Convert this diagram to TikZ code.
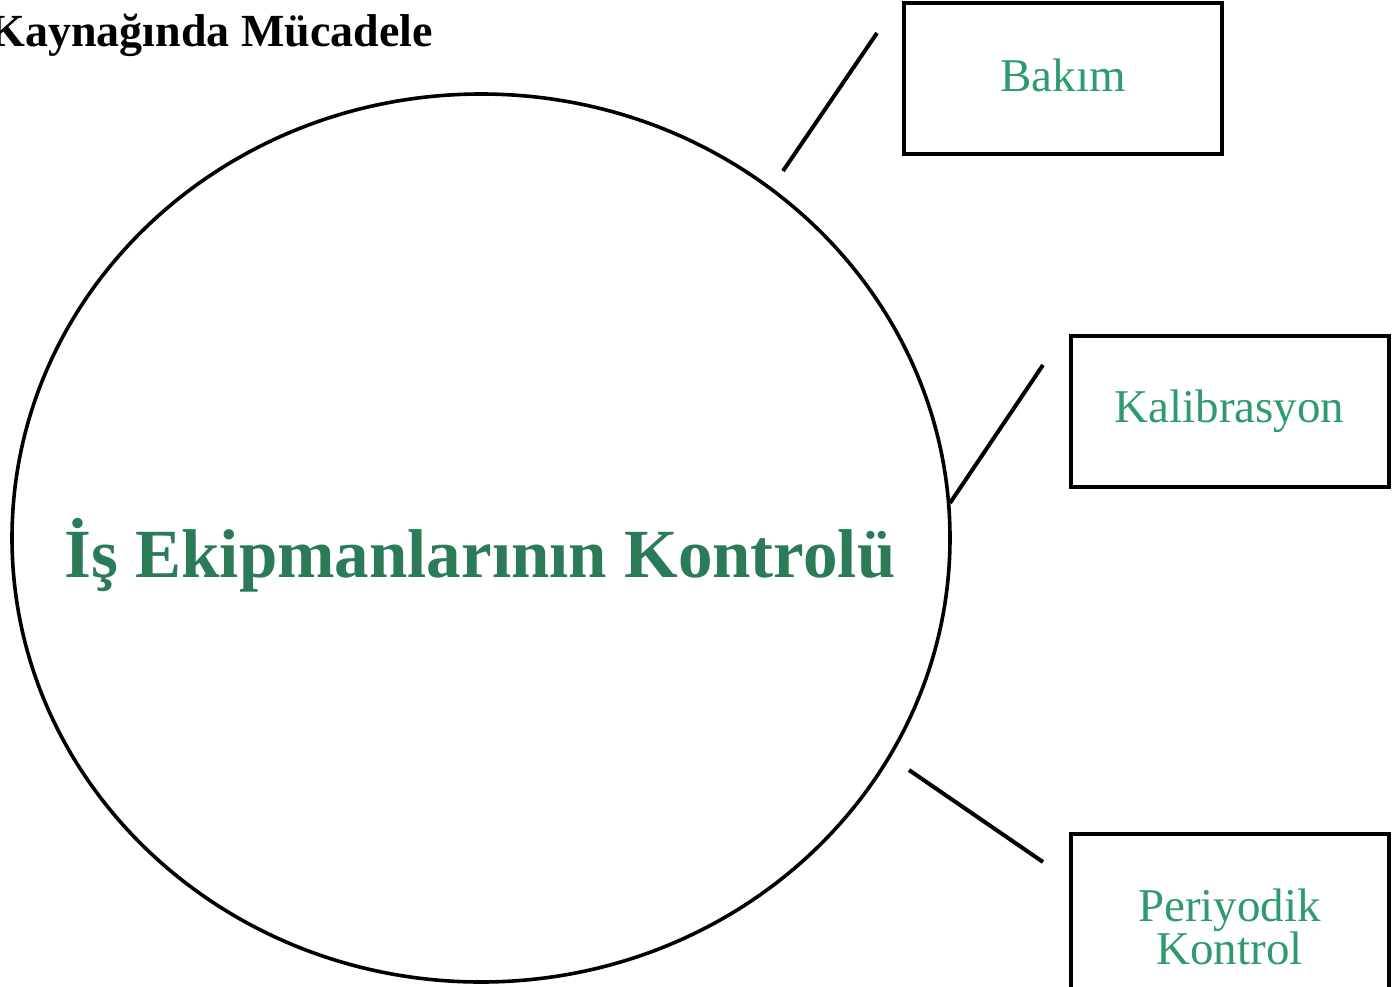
\documentclass[tikz,border=0pt]{standalone}
\usepackage{fontspec}
\setmainfont{Liberation Serif}
\usetikzlibrary{shapes.geometric}
\definecolor{boxgreen}{HTML}{2F9A6E}
\definecolor{maingreen}{HTML}{2B7A58}
\tikzset{
  boxnode/.style={draw=black, line width=4pt, rectangle, minimum width=318pt, align=center, text=boxgreen, font=\fontsize{47}{43}\selectfont, inner sep=0pt},
  link/.style={draw=black, line width=4pt}
}
\begin{document}
\begin{tikzpicture}[x=1pt,y=-1pt]
\useasboundingbox (0,0) rectangle (1393,986);
\begin{scope}
\clip (0,0) rectangle (1393,986);
\node[font=\fontsize{46}{50}\selectfont\bfseries, anchor=base east, inner sep=0pt] (title) at (433,46) {Kaynağında Mücadele};
\node[draw=black, line width=3.6pt, ellipse, minimum width=938pt, minimum height=888pt, inner sep=0pt] (circ) at (481,538) {};
\node[text=maingreen, font=\fontsize{69}{72}\selectfont\bfseries, anchor=base, inner sep=0pt] (main) at (480,577) {İş Ekipmanlarının Kontrolü};
\node[boxnode, minimum height=151pt] (bakim) at (1063,78.5) {\raisebox{6pt}{Bakım}};
\node[boxnode, minimum height=151pt] (kalib) at (1229.5,411.5) {Kalibrasyon};
\node[boxnode, minimum height=186pt] (periy) at (1229.5,927) {Periyodik\\Kontrol};
\coordinate (a1) at (783,171);
\coordinate (b1) at (877,33);
\coordinate (a2) at (950,503);
\coordinate (b2) at (1043,365);
\coordinate (a3) at (909,770);
\coordinate (b3) at (1043,862);
\draw[link] (a1) -- (b1);
\draw[link] (a2) -- (b2);
\draw[link] (a3) -- (b3);
\end{scope}
\end{tikzpicture}
\end{document}
